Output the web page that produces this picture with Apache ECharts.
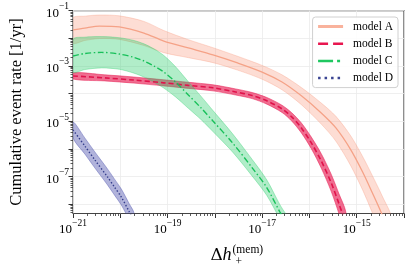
<!DOCTYPE html>
<html><head><meta charset="utf-8">
<script src="https://cdn.jsdelivr.net/npm/echarts@6/dist/echarts.min.js"></script>
<style>html,body{margin:0;padding:0;background:#fff}#c{width:415px;height:276px}</style>
</head><body><div id="c"></div>
<script>
// ---- data (all values are log10 of the quantity) ----
const xTickLabels = [-21, -19, -17, -15];          // log10(Δh)
const yTickLabels = [-1, -3, -5, -7];              // log10(rate)
const modelNames = ['model A', 'model B', 'model C', 'model D'];

const aX   = [-21, -20.75, -20.44, -20.02, -19.5, -19.08, -18.56, -18.04, -17.52, -17.0, -16.58, -16.17, -15.75, -15.44, -15.125, -14.875, -14.67, -14.46, -14.25];
const aMed = [-1.70, -1.63, -1.56, -1.59, -1.81, -2.10, -2.35, -2.60, -2.89, -3.22, -3.58, -4.08, -4.70, -5.24, -6.03, -6.83, -7.58, -8.38, -9.30];
const aUp  = [-1.27, -1.20, -1.16, -1.19, -1.39, -1.72, -2.05, -2.34, -2.65, -2.98, -3.32, -3.78, -4.34, -4.82, -5.53, -6.27, -6.96, -7.70, -8.55];
const aLo  = [-2.17, -2.08, -2.01, -2.04, -2.26, -2.52, -2.70, -2.88, -3.15, -3.48, -3.86, -4.40, -5.10, -5.72, -6.61, -7.48, -8.30, -9.18, -10.2];

const bX   = [-21, -20.33, -19.71, -19.08, -18.56, -18.04, -17.56, -17.21, -16.90, -16.58, -16.375, -16.17, -15.96, -15.75, -15.54, -15.375, -15.23];
const bMed = [-3.36, -3.43, -3.51, -3.61, -3.70, -3.79, -3.94, -4.07, -4.26, -4.55, -4.84, -5.24, -5.78, -6.43, -7.22, -7.98, -8.70];
const bUp  = [-3.25, -3.32, -3.40, -3.50, -3.59, -3.68, -3.83, -3.96, -4.14, -4.42, -4.69, -5.06, -5.57, -6.17, -6.91, -7.62, -8.28];
const bLo  = [-3.47, -3.54, -3.62, -3.72, -3.81, -3.90, -4.05, -4.18, -4.38, -4.68, -4.99, -5.42, -5.99, -6.69, -7.53, -8.34, -9.12];

const cX   = [-21, -20.75, -20.40, -20.02, -19.71, -19.5, -19.29, -19.08, -18.83, -18.56, -18.29, -18.04, -17.625, -17.21, -16.90, -16.625, -16.375];
const cMed = [-2.64, -2.55, -2.51, -2.57, -2.69, -2.82, -3.00, -3.22, -3.58, -4.05, -4.52, -4.99, -5.78, -6.68, -7.40, -8.27, -8.99];
const cUp  = [-2.04, -1.96, -1.94, -1.98, -2.08, -2.20, -2.38, -2.62, -3.03, -3.57, -4.10, -4.61, -5.45, -6.38, -7.12, -8.01, -8.73];
const cLo  = [-3.22, -3.13, -3.07, -3.12, -3.26, -3.40, -3.58, -3.80, -4.12, -4.53, -4.94, -5.37, -6.11, -6.98, -7.68, -8.53, -9.25];

const dX   = [-21, -20.75, -20.54, -20.27, -20.125, -19.98, -19.81, -19.71];
const dMed = [-5.31, -5.89, -6.39, -7.01, -7.37, -7.73, -8.27, -8.60];
const dUp  = [-5.02, -5.60, -6.10, -6.72, -7.08, -7.44, -7.98, -8.31];
const dLo  = [-5.60, -6.18, -6.68, -7.30, -7.66, -8.02, -8.56, -8.89];

// ---- helpers ----
const X_MIN = -21, X_MAX = -14;
const Y_TOP = 1, Y_BOT = 8.33; // y axis shows -log10(rate), inverted
const FONT = 'Liberation Serif';
const SMOOTH = 0.3;

const xMajor = []; for (let d = X_MIN; d <= X_MAX; d++) xMajor.push(d);
const xMinor = []; for (let d = X_MIN; d < X_MAX; d++) for (let k = 2; k <= 9; k++) xMinor.push(d + Math.log10(k));
const yMajor = []; for (let v = 1; v <= 8; v++) yMajor.push(v);
const yMinor = []; for (let d = -9; d <= -2; d++) for (let k = 2; k <= 9; k++) { const v = -(d + Math.log10(k)); if (v > Y_TOP && v < Y_BOT) yMinor.push(v); }

const models = [
  { name: modelNames[0], x: aX, med: aMed, up: aUp, lo: aLo, line: '#f5a287', band: 'rgba(250,150,120,0.32)', edge: 'rgba(250,150,120,0.45)', width: 1.3, type: 'solid', legendWidth: 3, legendColor: '#f9b29c' },
  { name: modelNames[1], x: bX, med: bMed, up: bUp, lo: bLo, line: '#e0134b', band: 'rgba(232,30,85,0.65)', edge: 'rgba(232,30,85,0.75)', width: 1.6, type: [5, 3], legendWidth: 2.5, legendColor: '#e8164f', legendType: [10, 5] },
  { name: modelNames[2], x: cX, med: cMed, up: cUp, lo: cLo, line: '#18c05a', band: 'rgba(40,205,105,0.36)', edge: 'rgba(40,205,105,0.5)', width: 1.4, type: [6, 2.5, 1.5, 2.5], legendWidth: 2.5, legendColor: '#1fc760', legendType: [15, 4, 3, 4] },
  { name: modelNames[3], x: dX, med: dMed, up: dUp, lo: dLo, line: '#343d8c', band: 'rgba(70,75,170,0.42)', edge: 'rgba(70,75,170,0.55)', width: 1.4, type: [1.4, 2], legendWidth: 2.5, legendColor: '#3b4593', legendType: [2.5, 4] }
];

const series = [];
models.forEach((m, mi) => {
  series.push({
    type: 'custom', name: 'band' + mi, silent: true, z: 2,
    data: [[m.x[0], -m.med[0]]],
    renderItem: function (params, api) {
      const pts = [];
      for (let i = 0; i < m.x.length; i++) pts.push(api.coord([m.x[i], -m.up[i]]));
      for (let i = m.x.length - 1; i >= 0; i--) pts.push(api.coord([m.x[i], -m.lo[i]]));
      const cs = params.coordSys;
      return {
        type: 'polygon', shape: { points: pts, smooth: SMOOTH },
        style: { fill: m.band, stroke: m.edge, lineWidth: 0.7 },
        clipPath: { type: 'rect', shape: { x: cs.x, y: cs.y, width: cs.width, height: cs.height } }
      };
    }
  });
  series.push({
    type: 'line', name: m.name, symbol: 'none', showSymbol: false, z: 3, smooth: SMOOTH,
    data: m.x.map((x, i) => [x, -m.med[i]]),
    lineStyle: { color: m.line, width: m.width, type: m.type },
    itemStyle: { color: m.line },
    clip: true
  });
});

const richTick = {
  b: { fontFamily: FONT, fontSize: 13, lineHeight: 18, verticalAlign: 'bottom', color: '#000' },
  s: { fontFamily: FONT, fontSize: 9.5, lineHeight: 8, verticalAlign: 'top', color: '#000' }
};

const chart = echarts.init(document.getElementById('c'), null, { renderer: 'canvas' });
chart.setOption({
  animation: false,
  backgroundColor: '#fff',
  grid: { left: 68, right: 11, top: 10.6, bottom: 62.5, show: true, borderColor: '#444', borderWidth: 1.2, backgroundColor: 'transparent' },
  xAxis: [
    {
      type: 'value', min: X_MIN, max: X_MAX, interval: 1, position: 'bottom',
      axisLine: { show: false },
      splitLine: { show: true, lineStyle: { color: '#ebebeb', width: 0.8 } },
      axisTick: { show: true, customValues: xMajor, length: 4.5, lineStyle: { color: '#333', width: 1 } },
      axisLabel: {
        customValues: xTickLabels, margin: 5, rich: richTick,
        formatter: v => '{b|10}{s|\u2212' + Math.abs(Math.round(v)) + '}'
      }
    },
    {
      type: 'value', min: X_MIN, max: X_MAX, interval: 1, position: 'bottom',
      axisLine: { show: false }, splitLine: { show: false }, axisLabel: { show: false },
      axisTick: { show: true, customValues: xMinor, length: 2.5, lineStyle: { color: '#333', width: 0.8 } }
    }
  ],
  yAxis: [
    {
      type: 'value', inverse: true, min: Y_TOP, max: Y_BOT, interval: 1, position: 'left',
      axisLine: { show: false },
      splitLine: { show: true, lineStyle: { color: '#ebebeb', width: 0.8 } },
      axisTick: { show: true, customValues: yMajor, length: 4.5, lineStyle: { color: '#333', width: 1 } },
      axisLabel: {
        customValues: yTickLabels.map(v => -v), margin: 4, rich: richTick,
        formatter: v => '{b|10}{s|\u2212' + Math.round(v) + '}'
      },
      name: 'Cumulative event rate [1/yr]', nameLocation: 'middle', nameGap: 48,
      nameTextStyle: { fontFamily: FONT, fontSize: 16.5, color: '#000' }
    },
    {
      type: 'value', inverse: true, min: Y_TOP, max: Y_BOT, interval: 1, position: 'left',
      axisLine: { show: false }, splitLine: { show: false }, axisLabel: { show: false },
      axisTick: { show: true, customValues: yMinor, length: 2.5, lineStyle: { color: '#333', width: 0.8 } }
    }
  ],
  legend: {
    orient: 'vertical', right: 17, top: 17,
    itemWidth: 25, itemHeight: 12, itemGap: 5.2,
    padding: [3.5, 5, 3.5, 4],
    backgroundColor: 'rgba(255,255,255,0.85)', borderColor: '#d0d0d0', borderWidth: 1, borderRadius: 3,
    textStyle: { fontFamily: FONT, fontSize: 11.5, color: '#000', padding: [0, 0, 0, 5] },
    data: models.map(m => ({
      name: m.name,
      lineStyle: { width: m.legendWidth, color: m.legendColor, type: m.legendType || 'solid' },
      itemStyle: { color: 'rgba(0,0,0,0)', borderColor: 'rgba(0,0,0,0)', borderWidth: 0, opacity: 0 }
    }))
  },
  graphic: [
    { type: 'text', x: 210.5, y: 255.5, style: { text: '\u0394', font: '17px "DejaVu Serif"', fill: '#000', align: 'left', verticalAlign: 'middle' } },
    { type: 'text', x: 222.5, y: 255, style: { text: 'h', font: 'italic 18px "Liberation Serif"', fill: '#000', align: 'left', verticalAlign: 'middle' } },
    { type: 'text', x: 232.5, y: 250, style: { text: '(mem)', font: '11.5px "Liberation Serif"', fill: '#000', align: 'left', verticalAlign: 'middle' } },
    { type: 'text', x: 235.5, y: 261.5, style: { text: '+', font: '11.5px "Liberation Serif"', fill: '#000', align: 'left', verticalAlign: 'middle' } }
  ],
  series: series
});
</script>
</body></html>
